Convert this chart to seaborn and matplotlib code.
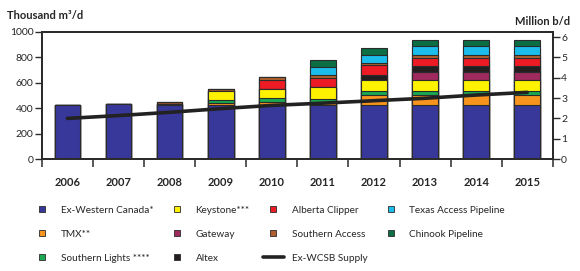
import numpy as np
import matplotlib
matplotlib.use("Agg")
import matplotlib.pyplot as plt
from matplotlib.lines import Line2D
from matplotlib.ticker import FixedLocator
import seaborn as sns

# values (thousand m3/d, supply line in million b/d)
years = [2006, 2007, 2008, 2009, 2010, 2011, 2012, 2013, 2014, 2015]
ex_western_canada = [425, 430, 422, 422, 425, 428, 425, 425, 425, 425]
tmx = [0, 0, 8, 20, 27, 22, 78, 80, 80, 80]
southern_lights = [0, 0, 0, 22, 27, 24, 30, 28, 28, 28]
keystone = [0, 0, 0, 70, 72, 92, 90, 90, 90, 90]
gateway = [0, 0, 0, 0, 0, 0, 0, 62, 62, 62]
altex = [0, 0, 0, 0, 0, 0, 42, 45, 45, 45]
alberta_clipper = [0, 0, 0, 0, 72, 72, 72, 68, 68, 68]
southern_access = [0, 0, 17, 20, 25, 20, 22, 22, 22, 22]
texas_access = [0, 0, 0, 0, 0, 64, 62, 68, 68, 68]
chinook = [0, 0, 0, 0, 0, 60, 52, 45, 45, 45]
ex_wcsb_supply = [2.0, 2.14, 2.3, 2.48, 2.64, 2.75, 2.87, 2.99, 3.15, 3.28]

layers = [
    ("Ex-Western Canada*", ex_western_canada, "#38389a"),
    ("TMX**", tmx, "#f7941d"),
    ("Southern Lights ****", southern_lights, "#1aa853"),
    ("Keystone***", keystone, "#fff200"),
    ("Gateway", gateway, "#9e2a5e"),
    ("Altex", altex, "#231f20"),
    ("Alberta Clipper", alberta_clipper, "#ed1c24"),
    ("Southern Access", southern_access, "#b0602e"),
    ("Texas Access Pipeline", texas_access, "#1cbdeb"),
    ("Chinook Pipeline", chinook, "#0b6e45"),
]

sns.set_theme(style="ticks")
plt.rcParams["font.family"] = ["Lato", "DejaVu Sans"]
edge = "#2b2b2b"

fig = plt.figure(figsize=(5.8, 2.71), dpi=100)
ax = fig.add_axes([0.0724, 0.413, 0.8806, 0.469])

# stacked bars: draw cumulative totals from the top layer down
cum = np.zeros(len(years))
tops = []
for name, vals, color in layers:
    cum = cum + np.array(vals)
    tops.append((cum.copy(), color))
for top, color in reversed(tops):
    sns.barplot(x=years, y=top, color=color, saturation=1, width=0.5,
                native_scale=True, errorbar=None, edgecolor=edge,
                linewidth=0.8, ax=ax)

ax.set_ylim(0, 1000)
ax.set_xlim(2005.5, 2015.5)
ax.set_yticks([0, 200, 400, 600, 800, 1000])
ax.xaxis.set_major_locator(FixedLocator(years))
ax.set_xticklabels([str(y) for y in years], fontsize=8, fontweight="bold")
ax.xaxis.set_minor_locator(FixedLocator([y - 0.5 for y in years] + [2015.5]))
ax.tick_params(axis="x", which="major", length=0, pad=13)
ax.tick_params(axis="x", which="minor", length=6, width=1.1, color=edge)
ax.tick_params(axis="y", length=5, width=1.0, color=edge, labelsize=7.5, pad=1)
ax.set_xlabel("")
ax.set_ylabel("")

ax2 = ax.twinx()
sns.lineplot(x=years, y=ex_wcsb_supply, color="#222222", linewidth=2.6, ax=ax2)
ax2.set_ylim(0, 6.25)
ax2.set_yticks(range(7))
ax2.tick_params(axis="y", length=5, width=1.0, color=edge, labelsize=7.5, pad=1)
ax2.set_xlim(2005.5, 2015.5)
ax2.set_ylabel("")

for a in (ax, ax2):
    for s in a.spines.values():
        s.set_visible(True)
        s.set_linewidth(1.3)
        s.set_color(edge)

fig.text(0.012, 0.943, "Thousand m³/d", fontsize=8, fontweight="bold",
         ha="left", va="center")
fig.text(0.983, 0.922, "Million b/d", fontsize=8, fontweight="bold",
         ha="right", va="center")

handles = []
labels = []
order = [0, 1, 2, 3, 4, 5, 6, 7, None, 8, 9]
for i in order:
    if i is None:
        handles.append(Line2D([], [], color="#222222", linewidth=2.6))
        labels.append("Ex-WCSB Supply")
    else:
        name, _, color = layers[i]
        handles.append(Line2D([], [], marker="s", linestyle="None",
                              markersize=5, markerfacecolor=color,
                              markeredgecolor=edge, markeredgewidth=0.6))
        labels.append(name)

fig.legend(handles, labels, ncol=4, loc="upper left",
           bbox_to_anchor=(0.055, 0.24), frameon=False, fontsize=7.2,
           handlelength=2.1, handletextpad=0.8, columnspacing=1.3,
           labelspacing=1.5, borderpad=0, borderaxespad=0)

fig.savefig("out.png", dpi=100)
